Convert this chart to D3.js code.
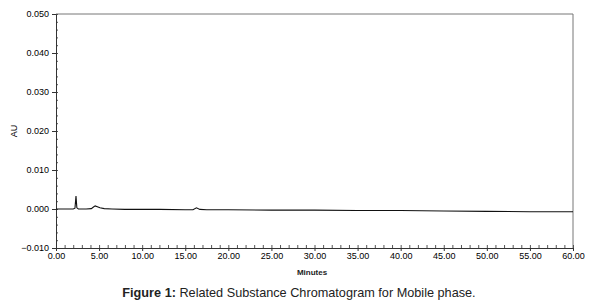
<!DOCTYPE html>
<html>
<head>
<meta charset="utf-8">
<script src="https://cdn.jsdelivr.net/npm/d3@7"></script>
<style>
  body { margin: 0; background: #fff; }
  svg { display: block; font-family: Arial, "Liberation Sans", sans-serif; }
</style>
</head>
<body>
<svg></svg>
<script>
// retention time (min) and absorbance (AU)
const minutes = [0, 1.0, 2.0, 2.2, 2.32, 2.42, 2.6, 3.5, 4.1, 4.35, 4.55, 4.8, 5.1, 5.6, 6.5, 8, 10, 12, 15, 15.9, 16.3, 16.7, 17.5, 20, 25, 30, 35, 40, 45, 50, 55, 60]
const absorbance = [0, 0, 0, 0.0002, 0.0033, 0.0003, 0, 0, 0.0001, 0.0005, 0.0008, 0.0006, 0.0003, 0.0001, 0, -0.0001, -0.0001, -0.0001, -0.0002, -0.0002, 0.0003, -0.0001, -0.0002, -0.0002, -0.0003, -0.0003, -0.0004, -0.0004, -0.0005, -0.0006, -0.0007, -0.0007]

const xTicks = [0, 5, 10, 15, 20, 25, 30, 35, 40, 45, 50, 55, 60]
const yTicks = [-0.01, 0, 0.01, 0.02, 0.03, 0.04, 0.05]
const xLabel = 'Minutes'
const yLabel = 'AU'
const captionBold = 'Figure 1:'
const captionText = ' Related Substance Chromatogram for Mobile phase.'

const width = 594
const height = 305
const paddingLeft = 56
const paddingRight = 21
const paddingTop = 14
const paddingBottom = 57

const svg = d3.select('svg')
              .attr('width', width)
              .attr('height', height)

const xScale = d3.scaleLinear()
                 .domain([0, 60])
                 .range([paddingLeft, width - paddingRight])
const yScale = d3.scaleLinear()
                 .domain([-0.01, 0.05])
                 .range([height - paddingBottom, paddingTop])

const [x0, x1] = xScale.range()
const [y0, y1] = yScale.range()

// frame (top and right)
svg.append('path')
   .attr('d', `M${x0},${y1}H${x1}V${y0}`)
   .attr('fill', 'none')
   .attr('stroke', '#777')
   .attr('stroke-width', 1)

// minor ticks
const xMinor = d3.range(0, 60.01, 1)
const yMinor = d3.range(-0.01, 0.0501, 0.002)

svg.append('g')
   .attr('transform', `translate(0, ${y0})`)
   .call(d3.axisTop(xScale).tickValues(xMinor).tickSize(3).tickFormat(''))
   .call(g => g.select('.domain').remove())
   .selectAll('line').attr('stroke', '#555')

svg.append('g')
   .attr('transform', `translate(${x0}, 0)`)
   .call(d3.axisRight(yScale).tickValues(yMinor).tickSize(2).tickFormat(''))
   .call(g => g.select('.domain').remove())
   .selectAll('line').attr('stroke', '#555')

// major axes
const xAxis = d3.axisBottom(xScale)
                .tickValues(xTicks)
                .tickSize(3)
                .tickSizeOuter(0)
                .tickFormat(d3.format('.2f'))
const yAxis = d3.axisLeft(yScale)
                .tickValues(yTicks)
                .tickSize(4)
                .tickSizeOuter(0)
                .tickFormat(d3.format('.3f'))

svg.append('g')
   .attr('transform', `translate(0, ${y0})`)
   .call(xAxis)
   .call(g => g.selectAll('text').attr('font-size', 9).attr('fill', '#000').attr('dy', '0.55em'))
   .call(g => g.selectAll('line, path').attr('stroke', '#333'))

svg.append('g')
   .attr('transform', `translate(${x0}, 0)`)
   .call(yAxis)
   .call(g => g.selectAll('text').attr('font-size', 9).attr('fill', '#000'))
   .call(g => g.selectAll('line, path').attr('stroke', '#333'))

// trace
const line = d3.line()
               .x((d, i) => xScale(minutes[i]))
               .y(d => yScale(d))

svg.append('path')
   .datum(absorbance)
   .attr('d', line)
   .attr('fill', 'none')
   .attr('stroke', '#111')
   .attr('stroke-width', 1.1)

// labels
svg.append('text')
   .text(yLabel)
   .attr('transform', `translate(17, ${(y0 + y1) / 2}) rotate(-90)`)
   .attr('text-anchor', 'middle')
   .attr('font-size', 9)
   .attr('fill', '#000')

svg.append('text')
   .text(xLabel)
   .attr('x', 312)
   .attr('y', 275)
   .attr('text-anchor', 'middle')
   .attr('font-size', 8)
   .attr('font-weight', 'bold')
   .attr('fill', '#222')

const caption = svg.append('text')
                   .attr('x', 299)
                   .attr('y', 297)
                   .attr('text-anchor', 'middle')
                   .attr('font-size', 12.7)
                   .attr('fill', '#222')
caption.append('tspan').text(captionBold).attr('font-weight', 'bold')
caption.append('tspan').text(captionText)
</script>
</body>
</html>
